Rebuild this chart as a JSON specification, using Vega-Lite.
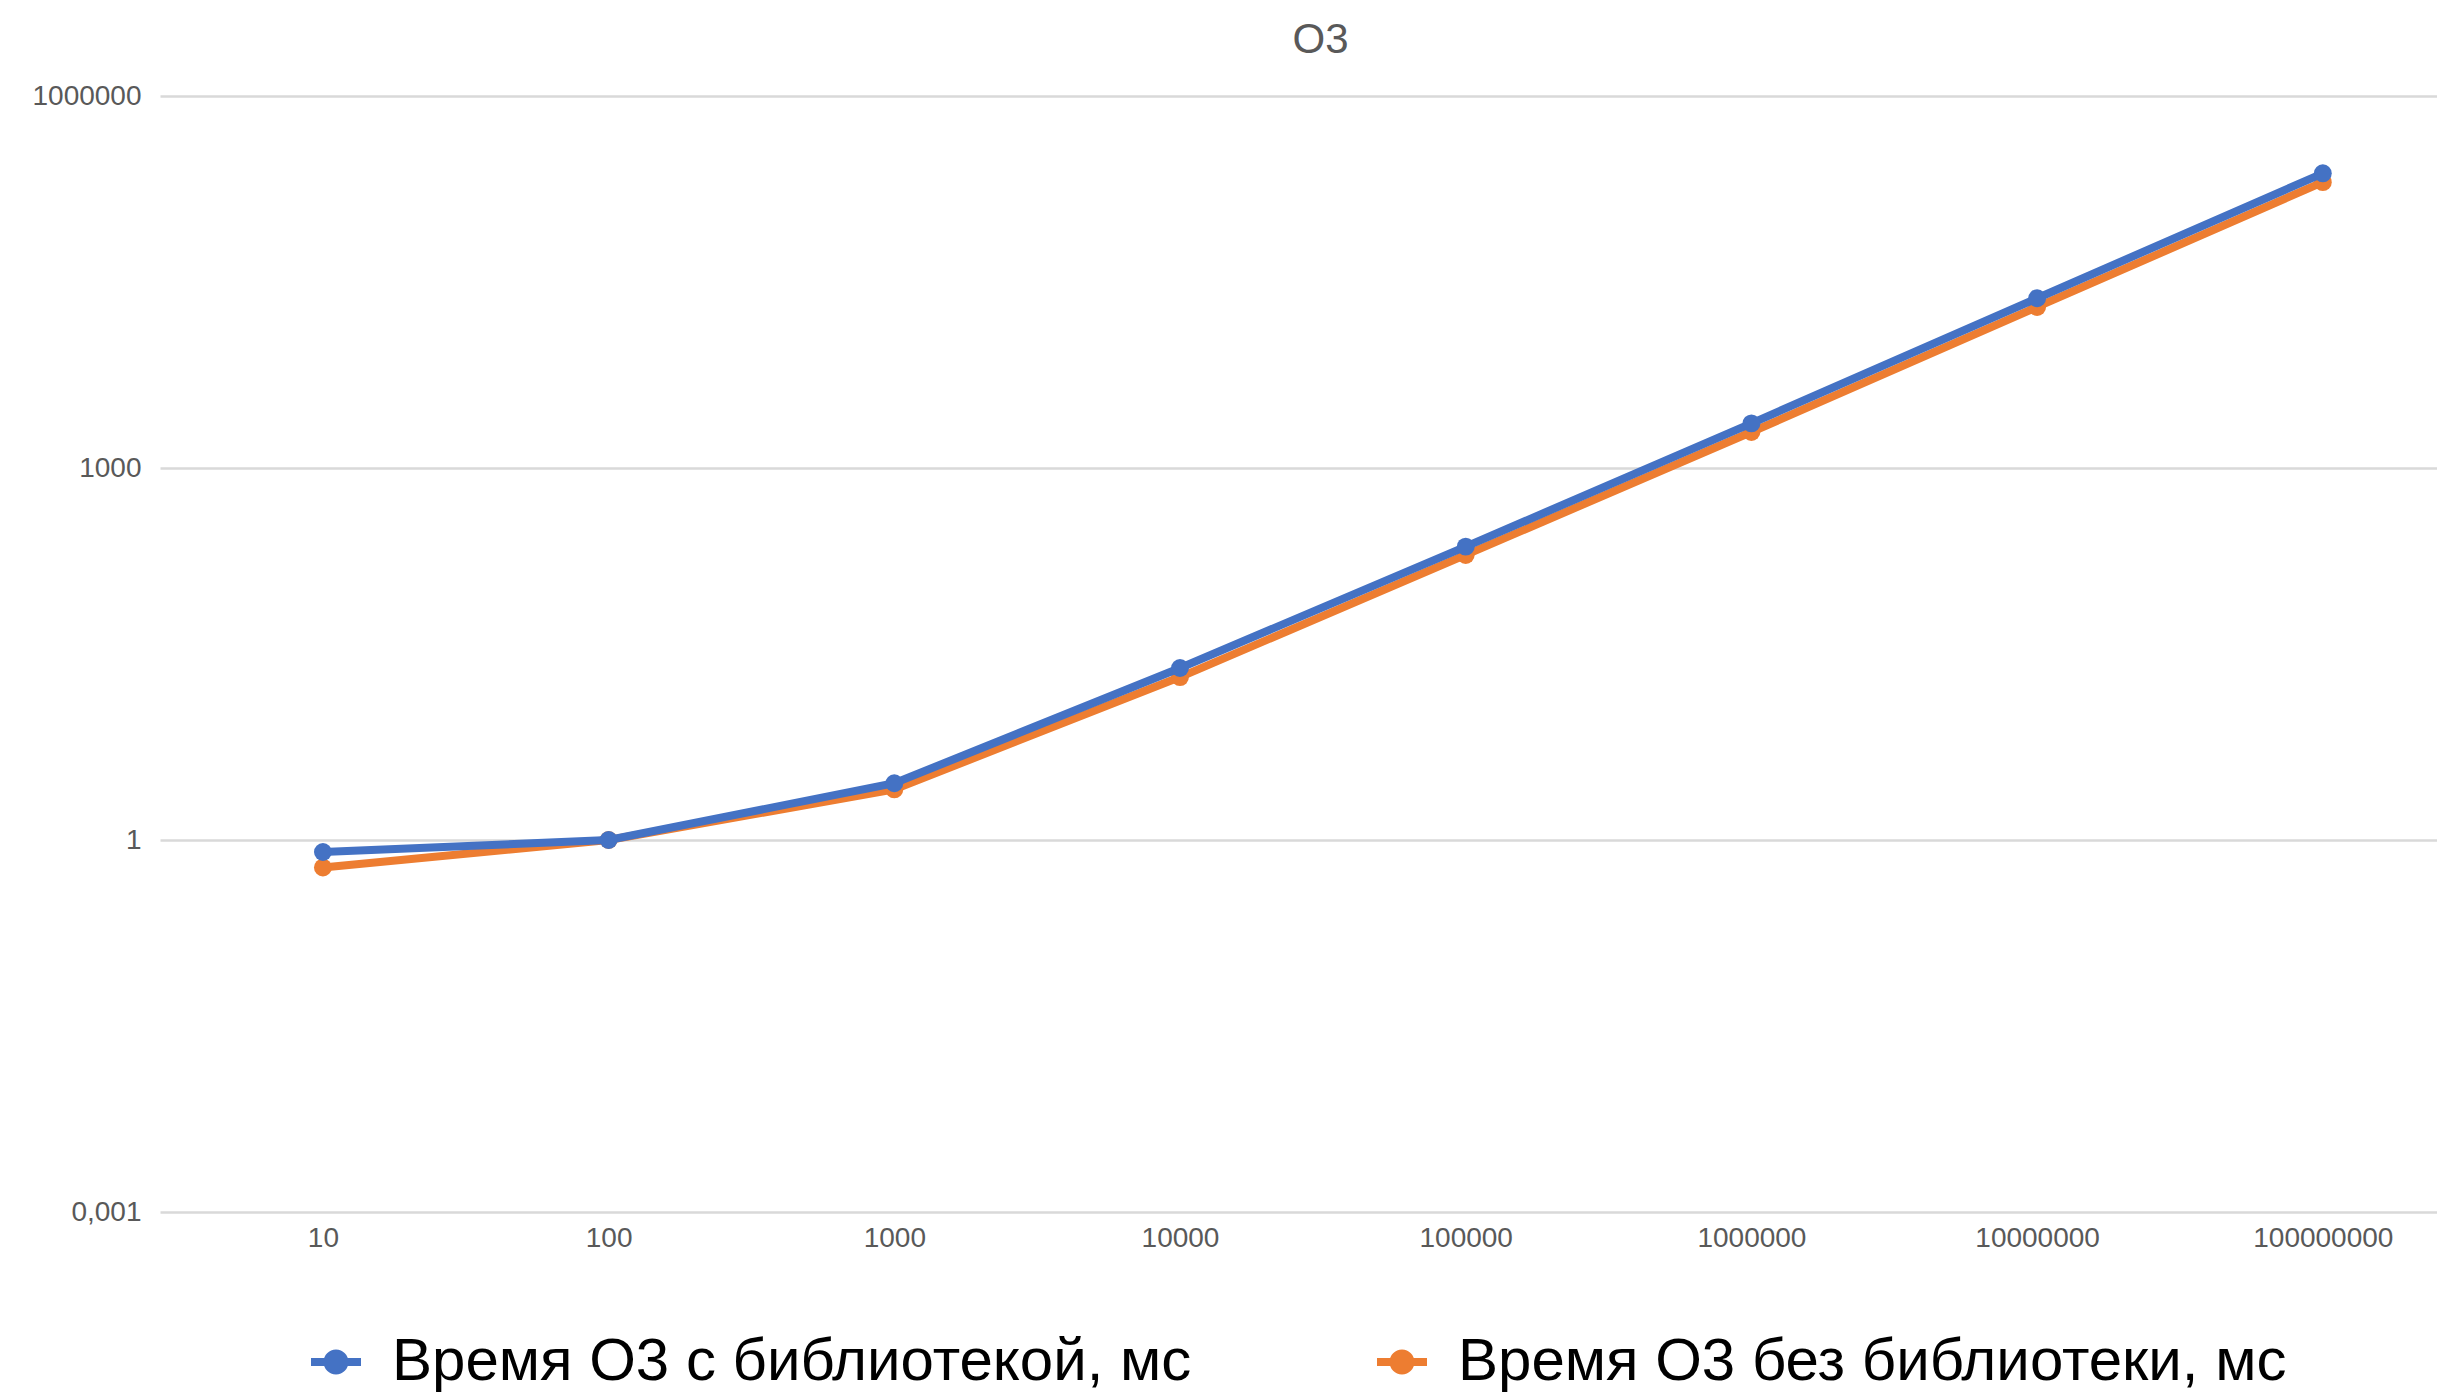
{
  "$schema": "https://vega.github.io/schema/vega-lite/v6.json",
  "width": 2277,
  "height": 1116,
  "autosize": {"type": "none"},
  "padding": {"left": 160, "top": 96, "right": 0, "bottom": 184},
  "background": "white",
  "title": {"text": "O3", "fontSize": 42, "font": "Liberation Sans", "fontWeight": "normal", "color": "#595959", "offset": 20, "dx": 22},
  "config": {
    "view": {"stroke": null},
    "font": "Liberation Sans"
  },
  "data": {
    "values": [
      {"n": 10, "series": "Время О3 без библиотеки, мс", "ms": 0.6},
      {"n": 100, "series": "Время О3 без библиотеки, мс", "ms": 1.0},
      {"n": 1000, "series": "Время О3 без библиотеки, мс", "ms": 2.56},
      {"n": 10000, "series": "Время О3 без библиотеки, мс", "ms": 20.6},
      {"n": 100000, "series": "Время О3 без библиотеки, мс", "ms": 199},
      {"n": 1000000, "series": "Время О3 без библиотеки, мс", "ms": 1950},
      {"n": 10000000, "series": "Время О3 без библиотеки, мс", "ms": 19900},
      {"n": 100000000, "series": "Время О3 без библиотеки, мс", "ms": 202000},
      {"n": 10, "series": "Время О3 с библиотекой, мс", "ms": 0.8},
      {"n": 100, "series": "Время О3 с библиотекой, мс", "ms": 1.0},
      {"n": 1000, "series": "Время О3 с библиотекой, мс", "ms": 2.87},
      {"n": 10000, "series": "Время О3 с библиотекой, мс", "ms": 24.4},
      {"n": 100000, "series": "Время О3 с библиотекой, мс", "ms": 232},
      {"n": 1000000, "series": "Время О3 с библиотекой, мс", "ms": 2290},
      {"n": 10000000, "series": "Время О3 с библиотекой, мс", "ms": 23400},
      {"n": 100000000, "series": "Время О3 с библиотекой, мс", "ms": 238000}
    ]
  },
  "encoding": {
    "x": {
      "field": "n", "type": "quantitative",
      "scale": {"type": "log", "domain": [2.69, 251000000], "nice": false},
      "axis": {
        "values": [10, 100, 1000, 10000, 100000, 1000000, 10000000, 100000000],
        "labelExpr": "format(datum.value, 'd')",
        "title": null, "grid": false, "domain": false, "ticks": false,
        "labelFontSize": 28, "labelColor": "#595959", "labelPadding": 12,
        "labelFlush": false, "labelOverlap": false
      }
    },
    "y": {
      "field": "ms", "type": "quantitative",
      "scale": {"type": "log", "domain": [0.001, 1000000], "nice": false},
      "axis": {
        "values": [0.001, 1, 1000, 1000000],
        "labelExpr": "datum.value < 0.01 ? '0,001' : format(datum.value, 'd')",
        "title": null, "grid": true, "gridColor": "#D9D9D9", "gridWidth": 2.5,
        "domain": false, "ticks": false,
        "labelFontSize": 28, "labelColor": "#595959", "labelPadding": 19,
        "labelFlush": false, "labelOverlap": false
      }
    },
    "color": {
      "field": "series", "type": "nominal",
      "scale": {"domain": ["Время О3 с библиотекой, мс", "Время О3 без библиотеки, мс"], "range": ["#4472C4", "#ED7D31"]},
      "legend": {
        "orient": "none", "legendX": 146, "legendY": 1236,
        "direction": "horizontal", "title": null,
        "labelFontSize": 60, "labelColor": "#000000", "labelFont": "Liberation Sans", "labelLimit": 2000,
        "symbolType": "M -1 -0.16 L 1 -0.16 L 1 0.16 L -1 0.16 Z M 0.5 0 A 0.5 0.5 0 1 1 -0.5 0 A 0.5 0.5 0 1 1 0.5 0 Z",
        "symbolSize": 2500, "symbolStrokeWidth": 0, "symbolOpacity": 1,
        "labelOffset": 26, "columnPadding": 180,
        "encode": {"symbols": {"update": {"fill": {"scale": "color", "field": "value"}, "stroke": {"value": "transparent"}}}}
      }
    }
  },
  "layer": [
    {
      "transform": [{"filter": "datum.series === 'Время О3 без библиотеки, мс'"}],
      "mark": {"type": "line", "strokeWidth": 8, "point": {"size": 320, "filled": true, "opacity": 1}}
    },
    {
      "transform": [{"filter": "datum.series === 'Время О3 с библиотекой, мс'"}],
      "mark": {"type": "line", "strokeWidth": 8, "point": {"size": 320, "filled": true, "opacity": 1}}
    }
  ]
}
